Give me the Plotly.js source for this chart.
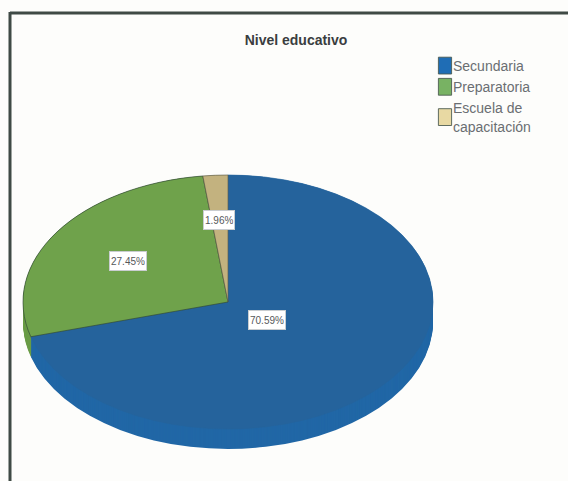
<!DOCTYPE html>
<html>
<head>
<meta charset="utf-8">
<script src="https://cdn.plot.ly/plotly-3.0.1.min.js"></script>
<style>html,body{margin:0;padding:0;background:#fdfdfb}</style>
</head>
<body>
<div id="chart" style="width:568px;height:481px"></div>
<script>
const categories = ['Secundaria', 'Preparatoria', 'Escuela de<br>capacitación'];
const values = [70.59, 27.45, 1.96];
const topColors = ['#25639c', '#6fa24b', '#c3b27f'];
const edgeColors = ['#25639c', '#2e4536', '#5a5a48'];
const sideColors = ['#2167a6', '#6a9c46', '#b8a878'];
const legendColors = ['#1f6db5', '#78b263', '#e8d9a3'];
const chartTitle = 'Nivel educativo';
const labelBoxes = [[267, 320], [128, 261], [219, 220]];

const W = 568, H = 481;
const cx = 228, rx = 205, topY = 302, ry = 127, depth = 20;
const flatCy = H / 2;
const sideOffsets = Array.from({length: depth + 1}, (_, i) => depth - i);

const domain = {
  x: [(cx - rx) / W, (cx + rx) / W],
  y: [(flatCy - rx) / H, (flatCy + rx) / H]
};

const common = {
  type: 'pie', labels: categories, values: values, sort: false,
  direction: 'clockwise', rotation: 0, textinfo: 'none', domain: domain
};

const traces = sideOffsets.map(() => Object.assign({}, common, {
  marker: {colors: sideColors, line: {width: 0}},
  showlegend: false, hoverinfo: 'skip'
}));
traces.push(Object.assign({}, common, {
  marker: {colors: topColors, line: {color: edgeColors, width: 0.8}},
  showlegend: true, hoverinfo: 'label+percent'
}));

const annotations = values.map((v, i) => ({
  xref: 'paper', yref: 'paper',
  x: labelBoxes[i][0] / W, y: 1 - labelBoxes[i][1] / H,
  xanchor: 'center', yanchor: 'middle', showarrow: false,
  text: v.toFixed(2) + '%', height: 16,
  font: {family: 'Liberation Sans, Arial', size: 10, color: '#55585a'},
  bgcolor: '#ffffff', bordercolor: '#c9cdd0', borderwidth: 1, borderpad: 1
}));

const layout = {
  width: W, height: H,
  margin: {l: 0, r: 0, t: 0, b: 0, autoexpand: false},
  paper_bgcolor: '#fdfdfb',
  title: {
    text: chartTitle, x: 296 / W, xanchor: 'center', y: 1 - 40 / H, yanchor: 'middle',
    font: {family: 'Liberation Sans, Arial', size: 14, color: '#3a3d3f', weight: 'bold'}
  },
  legend: {
    x: 413 / W, y: 1 - 50 / H, xanchor: 'left', yanchor: 'top',
    bgcolor: 'rgba(0,0,0,0)', traceorder: 'normal', itemclick: false, itemdoubleclick: false,
    font: {family: 'Liberation Sans, Arial', size: 14, color: '#6a6e72'}
  },
  annotations: annotations,
  shapes: [
    {type: 'line', xref: 'paper', yref: 'paper', x0: 10 / W, x1: 1, y0: 1 - 13 / H, y1: 1 - 13 / H,
     line: {color: '#3f4a45', width: 3}},
    {type: 'line', xref: 'paper', yref: 'paper', x0: 10 / W, x1: 10 / W, y0: 1 - 12 / H, y1: 0,
     line: {color: '#3f4a45', width: 3}}
  ]
};

Plotly.newPlot('chart', traces, layout, {displayModeBar: false}).then(() => {
  const k = ry / rx;
  const offsets = sideOffsets.concat([0]);
  document.querySelectorAll('#chart .pielayer > .trace').forEach((g, i) => {
    g.setAttribute('transform',
      'translate(0,' + (topY + offsets[i]) + ') scale(1,' + k + ') translate(0,' + (-flatCy) + ')');
  });
  document.querySelectorAll('#chart .legend .traces').forEach((t, i) => {
    const pts = t.querySelector('.legendpoints');
    if (pts) pts.setAttribute('transform', 'translate(10,0) scale(1.1,1.4)');
    const p = t.querySelector('.legendpoints path');
    if (p) {
      p.style.fill = legendColors[i];
      p.style.stroke = '#4a5a50';
      p.style.strokeWidth = '0.7px';
    }
  });
});
</script>
</body>
</html>
